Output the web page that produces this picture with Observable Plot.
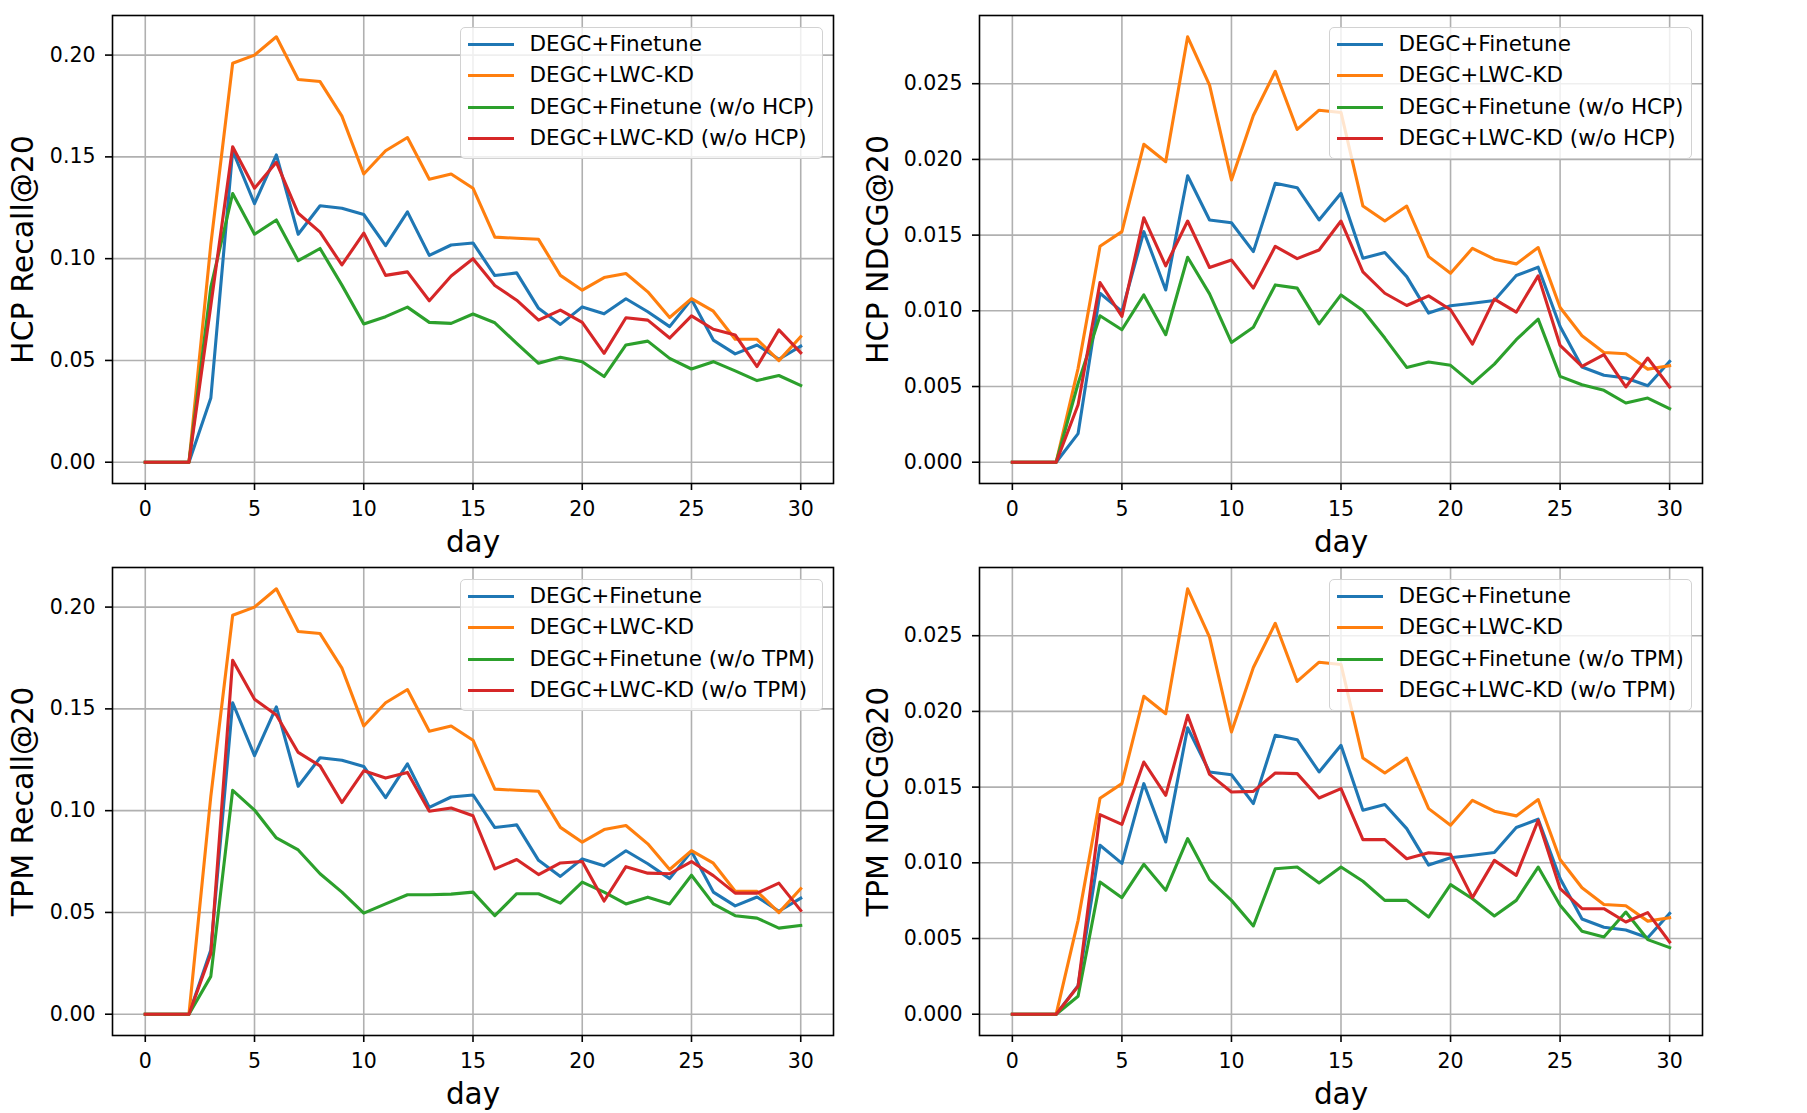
<!DOCTYPE html>
<html>
<head>
<meta charset="utf-8">
<script src="https://cdn.jsdelivr.net/npm/d3@7"></script>
<script src="https://cdn.jsdelivr.net/npm/@observablehq/plot@0.6"></script>
<style>
  html, body { margin: 0; padding: 0; background: #fff; }
  #fig { position: relative; width: 1807px; height: 1113px; background: #fff; font-family: "DejaVu Sans", sans-serif; overflow: hidden; }
  .panel { position: absolute; }
  .legend { position: absolute; background: rgba(255,255,255,0.8); border: 1.5px solid #d2d2d2; border-radius: 5px; box-sizing: border-box; }
  .legend .swatch { position: absolute; height: 3px; width: 46px; }
  .legend .lab { position: absolute; font-size: 21.5px; line-height: 30px; height: 30px; white-space: nowrap; color: #000; }
</style>
</head>
<body>
<div id="fig"></div>
<script>
// ---------- data ----------
const days = [0,1,2,3,4,5,6,7,8,9,10,11,12,13,14,15,16,17,18,19,20,21,22,23,24,25,26,27,28,29,30];
const dayTicks = [0,5,10,15,20,25,30];
const recallTicks = [0.00,0.05,0.10,0.15,0.20];
const ndcgTicks = [0.000,0.005,0.010,0.015,0.020,0.025];

const seriesNamesHCP = ["DEGC+Finetune","DEGC+LWC-KD","DEGC+Finetune (w/o HCP)","DEGC+LWC-KD (w/o HCP)"];
const seriesNamesTPM = ["DEGC+Finetune","DEGC+LWC-KD","DEGC+Finetune (w/o TPM)","DEGC+LWC-KD (w/o TPM)"];
const seriesColors = ["#1f77b4","#ff7f0e","#2ca02c","#d62728"];

// Recall@20
const finetuneRecall = [0,0,0,0.0315,0.153,0.127,0.151,0.112,0.126,0.1248,0.1217,0.1064,0.123,0.1016,0.1067,0.1077,0.0917,0.093,0.0756,0.0677,0.0763,0.0729,0.0803,0.0739,0.0666,0.080,0.060,0.0532,0.0576,0.0506,0.057];
const lwckdRecall = [0,0,0,0.107,0.196,0.200,0.209,0.188,0.187,0.170,0.1416,0.153,0.1595,0.139,0.1416,0.1346,0.1106,0.110,0.1095,0.0918,0.0845,0.0907,0.0927,0.0837,0.0711,0.0804,0.0742,0.0604,0.0604,0.0499,0.0617];
const finetuneNoHCPRecall = [0,0,0,0.086,0.132,0.112,0.119,0.099,0.105,0.087,0.0679,0.0715,0.0762,0.0687,0.0682,0.0728,0.0685,0.0584,0.0486,0.0516,0.0494,0.0421,0.0576,0.0595,0.051,0.0458,0.0494,0.0449,0.0401,0.0426,0.0377];
const lwckdNoHCPRecall = [0,0,0,0.077,0.155,0.1346,0.1473,0.1223,0.113,0.0969,0.1126,0.0918,0.0935,0.0793,0.0915,0.100,0.0868,0.0796,0.0698,0.0747,0.0687,0.0535,0.071,0.0698,0.061,0.0719,0.0653,0.0625,0.047,0.065,0.0538];
const finetuneNoTPMRecall = [0,0,0,0.0186,0.110,0.1003,0.0866,0.0807,0.069,0.060,0.0497,0.0542,0.0587,0.0587,0.059,0.060,0.0484,0.0592,0.0592,0.0546,0.0649,0.060,0.0542,0.0575,0.0542,0.0683,0.0542,0.0484,0.0472,0.0423,0.0436];
const lwckdNoTPMRecall = [0,0,0,0.0297,0.1739,0.1547,0.147,0.1286,0.122,0.104,0.1196,0.116,0.1188,0.0997,0.1013,0.0975,0.0714,0.076,0.0686,0.0743,0.075,0.0556,0.0725,0.0693,0.069,0.075,0.0681,0.0595,0.0595,0.0644,0.051];

// NDCG@20
const finetuneNdcg = [0,0,0,0.00189,0.01116,0.00996,0.01523,0.01138,0.01892,0.016,0.01582,0.01391,0.01842,0.01813,0.016,0.01776,0.01347,0.01385,0.01226,0.00985,0.01033,0.0105,0.01068,0.01233,0.01288,0.00897,0.00629,0.00574,0.00556,0.00505,0.00666];
const lwckdNdcg = [0,0,0,0.0062,0.01426,0.01523,0.021,0.01985,0.0281,0.0249,0.01864,0.0229,0.02582,0.02198,0.02325,0.0231,0.01692,0.01593,0.01692,0.01358,0.01248,0.01413,0.01341,0.0131,0.01418,0.01022,0.00835,0.00725,0.00716,0.00615,0.00637];
const finetuneNoHCPNdcg = [0,0,0,0.0052,0.00967,0.00875,0.01105,0.00842,0.01354,0.01112,0.00791,0.00892,0.01171,0.0115,0.00914,0.01105,0.01002,0.0082,0.00626,0.00662,0.0064,0.00519,0.00648,0.00809,0.00945,0.00567,0.00512,0.00475,0.00391,0.00424,0.00354];
const lwckdNoHCPNdcg = [0,0,0,0.0038,0.01187,0.00963,0.01615,0.01297,0.01593,0.01286,0.01336,0.0115,0.01426,0.01345,0.01402,0.01593,0.01257,0.01116,0.01035,0.01099,0.01007,0.0078,0.01077,0.00991,0.01231,0.00771,0.00633,0.0071,0.00497,0.00688,0.00497];
const finetuneNoTPMNdcg = [0,0,0,0.00119,0.00873,0.0077,0.0099,0.00818,0.0116,0.00889,0.00752,0.00583,0.00961,0.00972,0.00867,0.00972,0.00878,0.00752,0.00752,0.00642,0.00856,0.00763,0.00649,0.00752,0.00972,0.0072,0.00548,0.0051,0.00675,0.00493,0.0044];
const lwckdNoTPMNdcg = [0,0,0,0.00185,0.01318,0.01254,0.01666,0.01446,0.01974,0.01584,0.01468,0.01472,0.01593,0.01589,0.01428,0.0149,0.01153,0.01153,0.01027,0.01067,0.01056,0.0077,0.01016,0.00917,0.0128,0.0083,0.00697,0.00697,0.00609,0.00671,0.00477];

// ---------- layout ----------
const panels = [
  { left: 0,   top: 0,   width: 850, height: 560, mL: 112, mR: 17,  mT: 15, mB: 77, ylabel: "HCP Recall@20", ticks: recallTicks, fmt: ".2f", labelDx: -89,
    series: [finetuneRecall, lwckdRecall, finetuneNoHCPRecall, lwckdNoHCPRecall], names: seriesNamesHCP },
  { left: 850, top: 0,   width: 957, height: 560, mL: 129, mR: 105, mT: 15, mB: 77, ylabel: "HCP NDCG@20", ticks: ndcgTicks, fmt: ".3f", labelDx: -101,
    series: [finetuneNdcg, lwckdNdcg, finetuneNoHCPNdcg, lwckdNoHCPNdcg], names: seriesNamesHCP },
  { left: 0,   top: 560, width: 850, height: 553, mL: 112, mR: 17,  mT: 7,  mB: 78, ylabel: "TPM Recall@20", ticks: recallTicks, fmt: ".2f", labelDx: -89,
    series: [finetuneRecall, lwckdRecall, finetuneNoTPMRecall, lwckdNoTPMRecall], names: seriesNamesTPM },
  { left: 850, top: 560, width: 957, height: 553, mL: 129, mR: 105, mT: 7,  mB: 78, ylabel: "TPM NDCG@20", ticks: ndcgTicks, fmt: ".3f", labelDx: -101,
    series: [finetuneNdcg, lwckdNdcg, finetuneNoTPMNdcg, lwckdNoTPMNdcg], names: seriesNamesTPM }
];

const fig = document.getElementById("fig");

for (const p of panels) {
  const all = p.series.flat();
  const yMax = d3.max(all), yMin = d3.min(all);
  const pad = 0.05 * (yMax - yMin);
  const lineMarks = p.series.map((s, i) =>
    Plot.line(days.map((d, j) => ({ day: d, value: s[j] })), {
      x: "day", y: "value", stroke: seriesColors[i], strokeWidth: 3.1, strokeLinejoin: "round", strokeLinecap: "square"
    })
  );
  const chart = Plot.plot({
    width: p.width,
    height: p.height,
    marginLeft: p.mL, marginRight: p.mR, marginTop: p.mT, marginBottom: p.mB,
    x: { domain: [-1.5, 31.5] },
    y: { domain: [yMin - pad, yMax + pad] },
    style: { fontFamily: "DejaVu Sans", fontSize: "20px", color: "#000", background: "transparent", overflow: "visible" },
    marks: [
      Plot.gridX(dayTicks, { stroke: "#b0b0b0", strokeOpacity: 1, strokeWidth: 1.6 }),
      Plot.gridY(p.ticks, { stroke: "#b0b0b0", strokeOpacity: 1, strokeWidth: 1.6 }),
      ...lineMarks,
      Plot.frame({ stroke: "#000", strokeWidth: 1.6 }),
      Plot.axisX(dayTicks, { anchor: "bottom", tickSize: 7, tickPadding: 11, fontSize: 20.5, strokeWidth: 1.6, label: null, tickFormat: d3.format("d") }),
      Plot.axisY(p.ticks, { anchor: "left", tickSize: 7, tickPadding: 10, fontSize: 20.5, strokeWidth: 1.6, label: null, tickFormat: d3.format(p.fmt) }),
      Plot.text([p.ylabel], { text: d => d, frameAnchor: "left", rotate: -90, dx: p.labelDx, fontSize: 30, textAnchor: "middle", lineAnchor: "middle", fill: "#000" }),
      Plot.text(["day"], { text: d => d, frameAnchor: "bottom", dy: 59, fontSize: 29.5, textAnchor: "middle", lineAnchor: "middle", fill: "#000" })
    ]
  });
  const wrap = document.createElement("div");
  wrap.className = "panel";
  wrap.style.left = p.left + "px";
  wrap.style.top = p.top + "px";
  wrap.appendChild(chart);
  fig.appendChild(wrap);

  // legend (upper right inside the axes)
  const frameRight = p.left + p.width - p.mR;
  const frameTop = p.top + p.mT;
  const lg = document.createElement("div");
  lg.className = "legend";
  const lw = 363, lh = 132;
  lg.style.left = (frameRight - 10.5 - lw) + "px";
  lg.style.top = (frameTop + 11.7) + "px";
  lg.style.width = lw + "px";
  lg.style.height = lh + "px";
  p.names.forEach((name, i) => {
    const cy = 17 + i * 31.3;
    const sw = document.createElement("div");
    sw.className = "swatch";
    sw.style.left = "7px";
    sw.style.top = (cy - 1.5) + "px";
    sw.style.background = seriesColors[i];
    lg.appendChild(sw);
    const t = document.createElement("div");
    t.className = "lab";
    t.style.left = "69px";
    t.style.top = (cy - 15.5) + "px";
    t.textContent = name;
    lg.appendChild(t);
  });
  fig.appendChild(lg);
}
</script>
</body>
</html>
